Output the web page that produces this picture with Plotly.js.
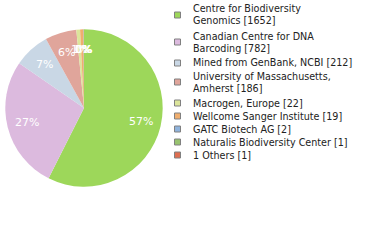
<!DOCTYPE html>
<html><head><meta charset="utf-8">
<script src="https://cdn.plot.ly/plotly-3.0.1.min.js"></script>
<style>html,body{margin:0;padding:0;background:#fff}#c{width:380px;height:240px}</style>
</head><body><div id="c"></div>
<script>
var labels = ["Centre for Biodiversity Genomics","Canadian Centre for DNA Barcoding","Mined from GenBank, NCBI","University of Massachusetts, Amherst","Macrogen, Europe","Wellcome Sanger Institute","GATC Biotech AG","Naturalis Biodiversity Center","1 Others"];
var legendText = ["Centre for Biodiversity<br>Genomics [1652]","Canadian Centre for DNA<br>Barcoding [782]","Mined from GenBank, NCBI [212]","University of Massachusetts,<br>Amherst [186]","Macrogen, Europe [22]","Wellcome Sanger Institute [19]","GATC Biotech AG [2]","Naturalis Biodiversity Center [1]","1 Others [1]"];
var counts = [1652, 782, 212, 186, 22, 19, 2, 1, 1];
var colors = ["#9dd75a","#dcbade","#c9d7e5","#e0a59b","#dce59b","#f0ae6e","#8fb3dc","#98c36f","#de6e50"];

var W = 380, H = 240;
var cx = 84, cy = 108, R = 78.7, rLab = 58.5;
var total = counts.reduce(function(a,b){return a+b;},0);

var trace = {
  type: "pie", labels: labels, values: counts, sort: false,
  direction: "clockwise", rotation: 0,
  marker: {colors: colors, line: {width: 0}},
  textinfo: "none", hoverinfo: "label+value+percent", showlegend: false,
  domain: {x: [(cx-R)/W, (cx+R)/W], y: [1-(cy+R)/H, 1-(cy-R)/H]}
};

var annotations = [], shapes = [];
var cum = 0;
counts.forEach(function(v, i){
  var mid = (cum + v/2)/total; cum += v;
  var th = mid*2*Math.PI;
  var px = cx + rLab*Math.sin(th), py = cy - rLab*Math.cos(th);
  annotations.push({xref:"paper", yref:"paper", x: px/W, y: 1-py/H, showarrow:false,
    text: Math.round(v/total*100) + "%", font:{family:"DejaVu Sans", size:11, color:"#ffffff"},
    xanchor:"center", yanchor:"middle"});
});

var yLine = 9;
legendText.forEach(function(t, i){
  var n = t.split("<br>").length;
  annotations.push({xref:"paper", yref:"paper", x: 191/W, y: 1-(yLine-7.5)/H, showarrow:false,
    text: t, align:"left", xanchor:"left", yanchor:"top",
    font:{family:"DejaVu Sans", size:9.6, color:"#222222"}});
  var mc = yLine + (n-1)*6;
  shapes.push({type:"rect", xref:"paper", yref:"paper",
    x0: 174.5/W, x1: 180.5/W, y0: 1-(mc+3)/H, y1: 1-(mc-3)/H,
    fillcolor: colors[i], line:{color:"#808080", width:1}});
  yLine += n*13 + (n>1 ? 1 : 0);
});

var layout = {width: W, height: H, margin:{l:0,r:0,t:0,b:0},
  paper_bgcolor:"#ffffff", plot_bgcolor:"#ffffff", showlegend:false,
  annotations: annotations, shapes: shapes};
Plotly.newPlot("c", [trace], layout, {staticPlot:true, displayModeBar:false});
</script></body></html>
